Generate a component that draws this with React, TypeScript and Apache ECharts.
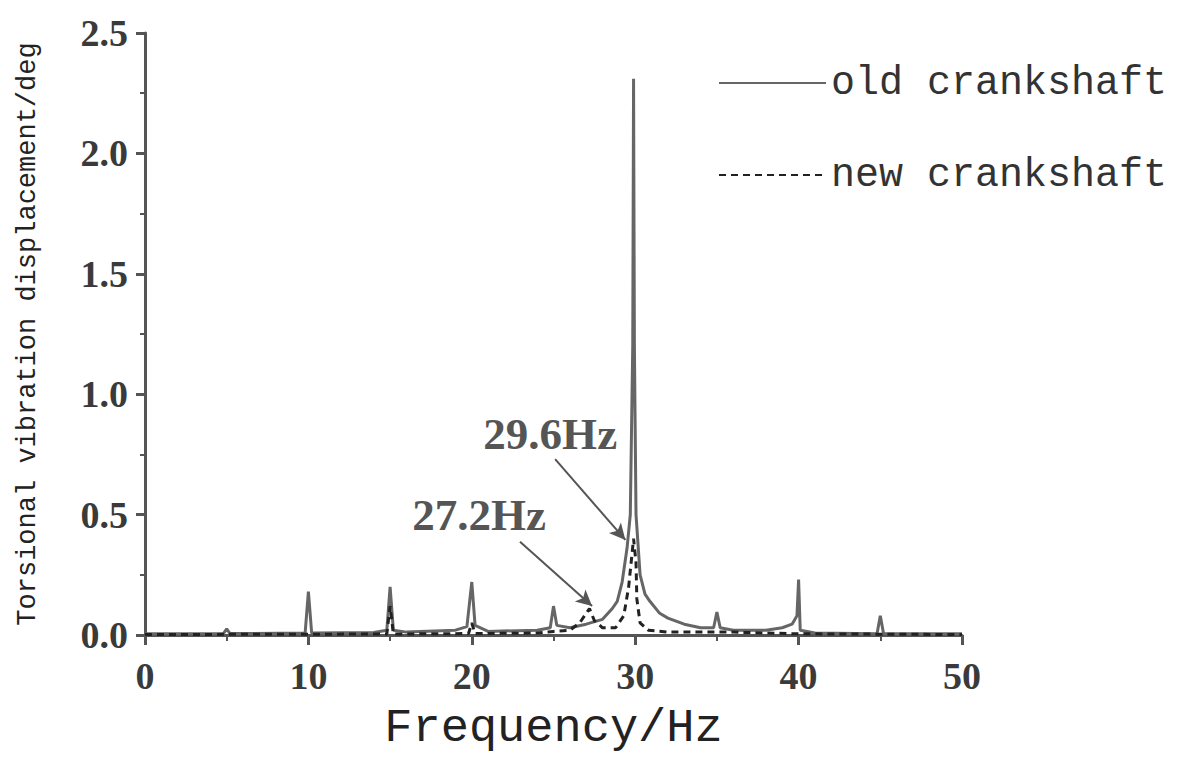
import React, { useEffect, useRef } from "react";
import * as echarts from "echarts";

const xTicks = [0, 10, 20, 30, 40, 50];
const yTicks = [0.0, 0.5, 1.0, 1.5, 2.0, 2.5];

// old crankshaft (solid): [frequency Hz, displacement deg]
const oldCrankshaft: [number, number][] = [
  [0, 0.005], [4.8, 0.006], [5, 0.025], [5.2, 0.006],
  [9.8, 0.008], [10, 0.18], [10.2, 0.008],
  [14, 0.01], [14.8, 0.02], [15, 0.2], [15.2, 0.02], [16, 0.012],
  [19, 0.02], [19.7, 0.035], [20, 0.22], [20.2, 0.04], [21, 0.015],
  [24, 0.02], [24.8, 0.03], [25, 0.12], [25.2, 0.04],
  [26, 0.03], [27, 0.045], [28, 0.065], [28.6, 0.11], [28.9, 0.14],
  [29.2, 0.22], [29.5, 0.36], [29.7, 0.5], [29.85, 1.2], [29.9, 2.31],
  [29.95, 1.2], [30.05, 0.5], [30.3, 0.25], [30.6, 0.17], [30.9, 0.14],
  [31.5, 0.09], [32, 0.07], [33, 0.045], [34, 0.03], [34.8, 0.03],
  [35, 0.095], [35.2, 0.03], [36, 0.02], [38, 0.02], [39, 0.03],
  [39.6, 0.045], [39.9, 0.08], [40, 0.23], [40.1, 0.02], [41, 0.008],
  [44.8, 0.005], [45, 0.08], [45.2, 0.005], [50, 0.005],
];

// new crankshaft (dashed)
const newCrankshaft: [number, number][] = [
  [0, 0.002], [14.8, 0.004], [15, 0.12], [15.2, 0.004],
  [19.8, 0.006], [20, 0.05], [20.2, 0.006],
  [24, 0.008], [25, 0.015], [26, 0.02], [26.6, 0.05], [27.0, 0.09],
  [27.2, 0.11], [27.5, 0.06], [28, 0.03], [28.8, 0.03],
  [29.3, 0.08], [29.6, 0.2], [29.9, 0.4], [30.05, 0.3],
  [30.1, 0.15], [30.3, 0.05], [30.8, 0.02], [32, 0.012],
  [36, 0.012], [38, 0.008], [40, 0.005], [50, 0.002],
];

// annotation texts and arrows [start, end] in data coordinates
const annotations = [
  { text: "29.6Hz", at: [24.8, 0.835], from: [25.1, 0.73], to: [29.4, 0.395] },
  { text: "27.2Hz", at: [20.45, 0.5], from: [22.95, 0.387], to: [27.36, 0.12] },
];

const axisColor = "#555";
const tickFont = {
  fontFamily: "'Liberation Serif', 'Times New Roman', serif",
  fontWeight: "bold" as const,
  fontSize: 38,
  color: "#3a3a3a",
};
const monoFont = "'Liberation Mono', 'DejaVu Sans Mono', monospace";

export default function App() {
  const ref = useRef<HTMLDivElement>(null);

  useEffect(() => {
    if (!ref.current) return;
    const chart = echarts.init(ref.current, null, { renderer: "svg" });
    chart.setOption({
      animation: false,
      backgroundColor: "#fff",
      grid: { left: 145, right: 216, top: 33, bottom: 116, containLabel: false },
      legend: {
        orient: "vertical",
        left: 713,
        top: 58,
        itemWidth: 107,
        itemHeight: 14,
        itemGap: 52,
        itemStyle: { opacity: 0 },
        textStyle: { fontFamily: monoFont, fontSize: 40, color: "#333", lineHeight: 40 },
        data: ["old crankshaft", "new crankshaft"],
      },
      xAxis: {
        type: "value",
        min: 0,
        max: 50,
        interval: 10,
        name: "Frequency/Hz",
        nameLocation: "middle",
        nameGap: 70,
        nameTextStyle: { fontFamily: monoFont, fontSize: 47, color: "#222" },
        axisLine: { show: true, lineStyle: { color: axisColor, width: 3 } },
        axisTick: { show: true, length: 10, inside: false, lineStyle: { color: axisColor, width: 3 } },
        minorTick: { show: true, splitNumber: 2, length: 6, lineStyle: { color: axisColor, width: 2 } },
        splitLine: { show: false },
        axisLabel: { ...tickFont, margin: 22, formatter: (v: number) => (xTicks.includes(v) ? String(v) : "") },
      },
      yAxis: {
        type: "value",
        min: 0,
        max: 2.5,
        interval: 0.5,
        name: "Torsional vibration displacement/deg",
        nameLocation: "middle",
        nameGap: 104,
        nameRotate: 90,
        nameTextStyle: { fontFamily: monoFont, fontSize: 27, color: "#222" },
        axisLine: { show: true, lineStyle: { color: axisColor, width: 3 } },
        axisTick: { show: true, length: 9, inside: false, lineStyle: { color: axisColor, width: 3 } },
        minorTick: { show: true, splitNumber: 2, length: 5, lineStyle: { color: axisColor, width: 2 } },
        splitLine: { show: false },
        axisLabel: {
          ...tickFont,
          margin: 17,
          formatter: (v: number) => {
            const f = yTicks.find((t) => Math.abs(t - v) < 1e-9);
            return f === undefined ? "" : f.toFixed(1);
          },
        },
      },
      series: [
        {
          name: "old crankshaft",
          type: "line",
          data: oldCrankshaft,
          showSymbol: false,
          symbol: "none",
          lineStyle: { color: "#666", width: 3 },
          itemStyle: { color: "#666" },
          z: 2,
          markLine: {
            silent: true,
            symbol: ["none", "arrow"],
            symbolSize: [12, 16],
            lineStyle: { color: "#555", width: 2, type: "solid" },
            label: { show: false },
            data: annotations.map((a) => [
              { coord: a.from },
              { coord: a.to },
            ]),
          },
          markPoint: {
            silent: true,
            symbol: "circle",
            symbolSize: 0,
            label: {
              show: true,
              position: "inside",
              fontFamily: "'Liberation Serif', 'Times New Roman', serif",
              fontWeight: "bold",
              fontSize: 45,
              color: "#555",
              formatter: (p: any) => p.name,
            },
            data: annotations.map((a) => ({ name: a.text, coord: a.at })),
          },
        },
        {
          name: "new crankshaft",
          type: "line",
          data: newCrankshaft,
          showSymbol: false,
          symbol: "none",
          lineStyle: { color: "#222", width: 3, type: [7, 5] },
          itemStyle: { color: "#222" },
          z: 3,
        },
      ],
    });
    return () => chart.dispose();
  }, []);

  return (
    <div
      ref={ref}
      style={{ position: "fixed", left: 0, top: 0, width: 1178, height: 757, background: "#fff" }}
    />
  );
}
